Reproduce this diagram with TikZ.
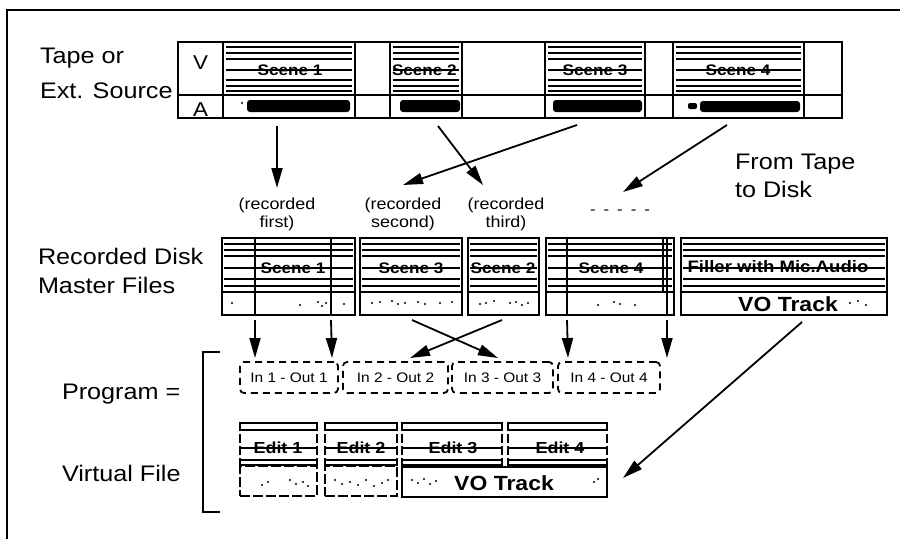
\documentclass[tikz,border=0pt]{standalone}
\usepackage{fontspec}
\setmainfont{Liberation Sans}
\newfontfamily\wfont[FakeStretch=1.12]{Liberation Sans}
\newfontfamily\vfont[FakeStretch=1.12]{Liberation Sans}
\usetikzlibrary{arrows.meta,calc}
\begin{document}
\begin{tikzpicture}[x=1pt,y=-1pt,
  every node/.style={inner sep=0pt, outer sep=0pt},
  cellbox/.style 2 args={minimum width=#1pt, minimum height=#2pt, anchor=north west},
  heavy/.style={line width=2.2pt},
  hatch/.style={line width=1.1pt},
  lbl/.style={font=\wfont\fontsize{22.5}{26}\selectfont, anchor=base west},
  rec/.style={font=\wfont\fontsize{16}{18}\selectfont, align=center, anchor=north},
  scn/.style={font=\wfont\bfseries\fontsize{15.3}{17}\selectfont},
  edt/.style={font=\wfont\bfseries\fontsize{16}{18}\selectfont},
  vot/.style={font=\vfont\bfseries\fontsize{20.5}{22}\selectfont},
  iolbl/.style={font=\wfont\fontsize{13.8}{15}\selectfont},
  pbox/.style={draw, line width=1.8pt, dash pattern=on 7pt off 5pt, rounded corners=4pt},
  arr/.style={-{Triangle[length=20pt,width=11pt]}, line width=1.8pt},
  speck/.style={fill=black}
]
\useasboundingbox (0,0) rectangle (900,539);
% frame
\draw[line width=1.4pt] (7,539) -- (7,10) -- (900,10);

% ---------- left labels ----------
\node[lbl] (tapeA) at (40,63) {Tape or};
\node[lbl] (tapeB) at (40,98) {Ext. Source};
\node[lbl] (recA) at (38,264) {Recorded Disk};
\node[lbl] (recB) at (38,293) {Master Files};
\node[lbl] (prog) at (62,399) {Program =};
\node[lbl] (virt) at (62,481) {Virtual File};
\node[lbl] (fromA) at (735,169) {From Tape};
\node[lbl] (fromB) at (735,197) {to Disk};

% ---------- tape strip ----------
\node[cellbox={664}{76}, draw, heavy] (tape) at (178,42) {};
\draw[heavy] (178,95) -- (842,95);
\foreach \x in {223,355,390,462,545,645,673,804} \draw[heavy] (\x,42) -- (\x,118);
\node[font=\wfont\fontsize{20}{22}\selectfont, anchor=base] (vlab) at (200.5,69) {V};
\node[font=\wfont\fontsize{20}{22}\selectfont, anchor=base] (alab) at (200.5,116.5) {A};

\node[cellbox={132}{53}] (tv1) at (223,42) {};
\node[cellbox={72}{53}] (tv2) at (390,42) {};
\node[cellbox={100}{53}] (tv3) at (545,42) {};
\node[cellbox={131}{53}] (tv4) at (673,42) {};
\node[cellbox={132}{23}] (ta1) at (223,95) {};
\node[cellbox={72}{23}] (ta2) at (390,95) {};
\node[cellbox={100}{23}] (ta3) at (545,95) {};
\node[cellbox={131}{23}] (ta4) at (673,95) {};

\foreach \a/\b in {223/355,390/462,545/645,673/804}{
  \foreach \y in {47,53,59,70,80,86,91} \draw[hatch] (\a+3,\y) -- (\b-3,\y);
}
\node[scn] (ts1) at (290,70) {Scene 1};
\node[scn, anchor=west] (ts2) at (392,70) {Scene 2};
\node[scn] (ts3) at (595,70) {Scene 3};
\node[scn] (ts4) at (738,70) {Scene 4};

% audio blobs
\fill[rounded corners=3pt] (247,100) rectangle (350,112);
\fill (242,103) circle (1.2);
\fill[rounded corners=3pt] (400,100) rectangle (460,112);
\fill[rounded corners=3pt] (553,100) rectangle (642,112);
\fill[rounded corners=3pt] (700,101) rectangle (800,112);
\fill[rounded corners=2pt] (688,103) rectangle (697,109);

% ---------- recorded labels ----------
\node[rec] (rl1) at (277,198) {(recorded\\first)};
\node[rec] (rl2) at (403,198) {(recorded\\second)};
\node[rec] (rl3) at (506,198) {(recorded\\third)};
\node[font=\wfont\fontsize{15}{16}\selectfont, anchor=base] (dsh) at (620,214)
  {-\hspace{8pt}-\hspace{8pt}-\hspace{8pt}-\hspace{8pt}-};
\coordinate (tip4) at (623,192);

% tape -> disk arrows
\draw[arr] ($(ta1.south)+(-12,8)$) -- ($(rl1.north)+(0,-10)$);
\draw[arr] ($(ta2.south)+(12,8)$) -- ($(rl3.north)+(-23,-13)$);
\draw[arr] ($(ta3.south)+(-18,7)$) -- ($(rl2.north)+(0,-13)$);
\draw[arr] ($(ta4.south)+(-11.5,7)$) -- (tip4);

% ---------- master files ----------
\node[cellbox={133}{77}, draw, heavy] (m1) at (222,238) {};
\node[cellbox={102}{77}, draw, heavy] (m2) at (360,238) {};
\node[cellbox={71}{77}, draw, heavy] (m3) at (468,238) {};
\node[cellbox={128}{77}, draw, heavy] (m4) at (546,238) {};
\node[cellbox={206}{77}, draw, heavy] (m5) at (681,238) {};
\foreach \a/\b in {222/355,360/462,468/539,546/674,681/887}{
  \draw[heavy] (\a,292) -- (\b,292);
  \foreach \y in {244,250,256,268,279,286} \draw[hatch] (\a+2,\y) -- (\b-2,\y);
}
\foreach \x in {255,331,567,667} \draw[heavy] (\x,238) -- (\x,315);
\draw[hatch] (663,238) -- (663,292);
\node[scn] (ms1) at (293,268) {Scene 1};
\node[scn] (ms3) at (411,268) {Scene 3};
\node[scn] (ms2) at (503,268) {Scene 2};
\node[scn] (ms4) at (611,268) {Scene 4};
\node[font=\wfont\bfseries\fontsize{16.6}{18}\selectfont] (fill) at (778,267) {Filler with Mic.Audio};
\node[vot] (vo1) at (788,304) {VO Track};
% speckles
\foreach \p in {(232,303),(318,302),(322,306),(326,303),(344,304),(300,305),
  (372,303),(380,302),(392,301),(398,304),(405,303),(418,302),(425,304),(440,303),(452,302),
  (480,304),(486,303),(494,301),(510,303),(516,302),(522,305),(528,303),
  (598,305),(614,302),(620,304),(635,305),(850,303),(858,301),(866,305)}
  \fill[speck] \p circle (1.1);

% ---------- program boxes ----------
\node[cellbox={98}{31}, pbox] (p1) at (240,362) {};
\node[cellbox={105}{31}, pbox] (p2) at (343,362) {};
\node[cellbox={101}{31}, pbox] (p3) at (452,362) {};
\node[cellbox={102}{31}, pbox] (p4) at (558,362) {};
\node[iolbl] (io1) at (p1.center) {In 1 - Out 1};
\node[iolbl] (io2) at (p2.center) {In 2 - Out 2};
\node[iolbl] (io3) at (p3.center) {In 3 - Out 3};
\node[iolbl] (io4) at (p4.center) {In 4 - Out 4};

% bracket
\draw[heavy] (220,352) -- (203,352) -- (203,512) -- (220,512);

% ---------- virtual file ----------
\node[cellbox={77}{43}] (e1) at (240,422) {};
\node[cellbox={72}{43}] (e2) at (325,422) {};
\node[cellbox={100}{43}] (e3) at (402,422) {};
\node[cellbox={99}{43}] (e4) at (508,422) {};
\foreach \a/\b in {240/317,325/397,402/502,508/607}{
  \foreach \y in {423,430,448,460,465} \draw[line width=1.5pt] (\a,\y) -- (\b,\y);
  \draw[line width=1.6pt, dash pattern=on 9pt off 3pt] (\a,422) -- (\a,466);
  \draw[line width=1.6pt, dash pattern=on 9pt off 3pt] (\b,422) -- (\b,466);
}
\node[edt] (ed1) at (278,448) {Edit 1};
\node[edt] (ed2) at (361,448) {Edit 2};
\node[edt] (ed3) at (453,448) {Edit 3};
\node[edt] (ed4) at (560,448) {Edit 4};
\node[cellbox={77}{30}, draw, line width=1.8pt, dash pattern=on 10pt off 3pt] (ea1) at (240,466) {};
\node[cellbox={72}{30}, draw, line width=1.8pt, dash pattern=on 10pt off 3pt] (ea2) at (325,466) {};
\node[cellbox={205}{30}, draw, heavy] (vo) at (402,467) {};
\node[vot] (vo2) at (504,483) {VO Track};
\foreach \p in {(262,485),(268,482),(290,480),(296,484),(303,482),(308,486),
  (335,480),(342,484),(350,482),(358,485),(366,480),(374,486),(382,483),(388,480),
  (412,480),(418,483),(424,479),(430,484),(436,481),(598,479),(594,482)}
  \fill[speck] \p circle (1.2);

% disk -> program arrows
\draw[arr] ($(m1.south west)+(33,5)$) -- ($(p1.north west)+(15,-4)$);
\draw[arr] ($(m1.south west)+(109,5)$) -- ($(p1.north west)+(92,-4)$);
\draw[arr] ($(m2.south west)+(52,5)$) -- ($(p3.north west)+(46,-4)$);
\draw[arr] ($(m3.south west)+(34,5)$) -- ($(p2.north west)+(67,-4)$);
\draw[arr] ($(m4.south west)+(21,5)$) -- ($(p4.north west)+(10,-4)$);
\draw[arr] ($(m4.south west)+(121,5)$) -- ($(p4.north east)+(7,-4)$);
\draw[arr] ($(m5.south west)+(121,7)$) -- ($(vo.east)+(16,-4)$);
\end{tikzpicture}
\end{document}
